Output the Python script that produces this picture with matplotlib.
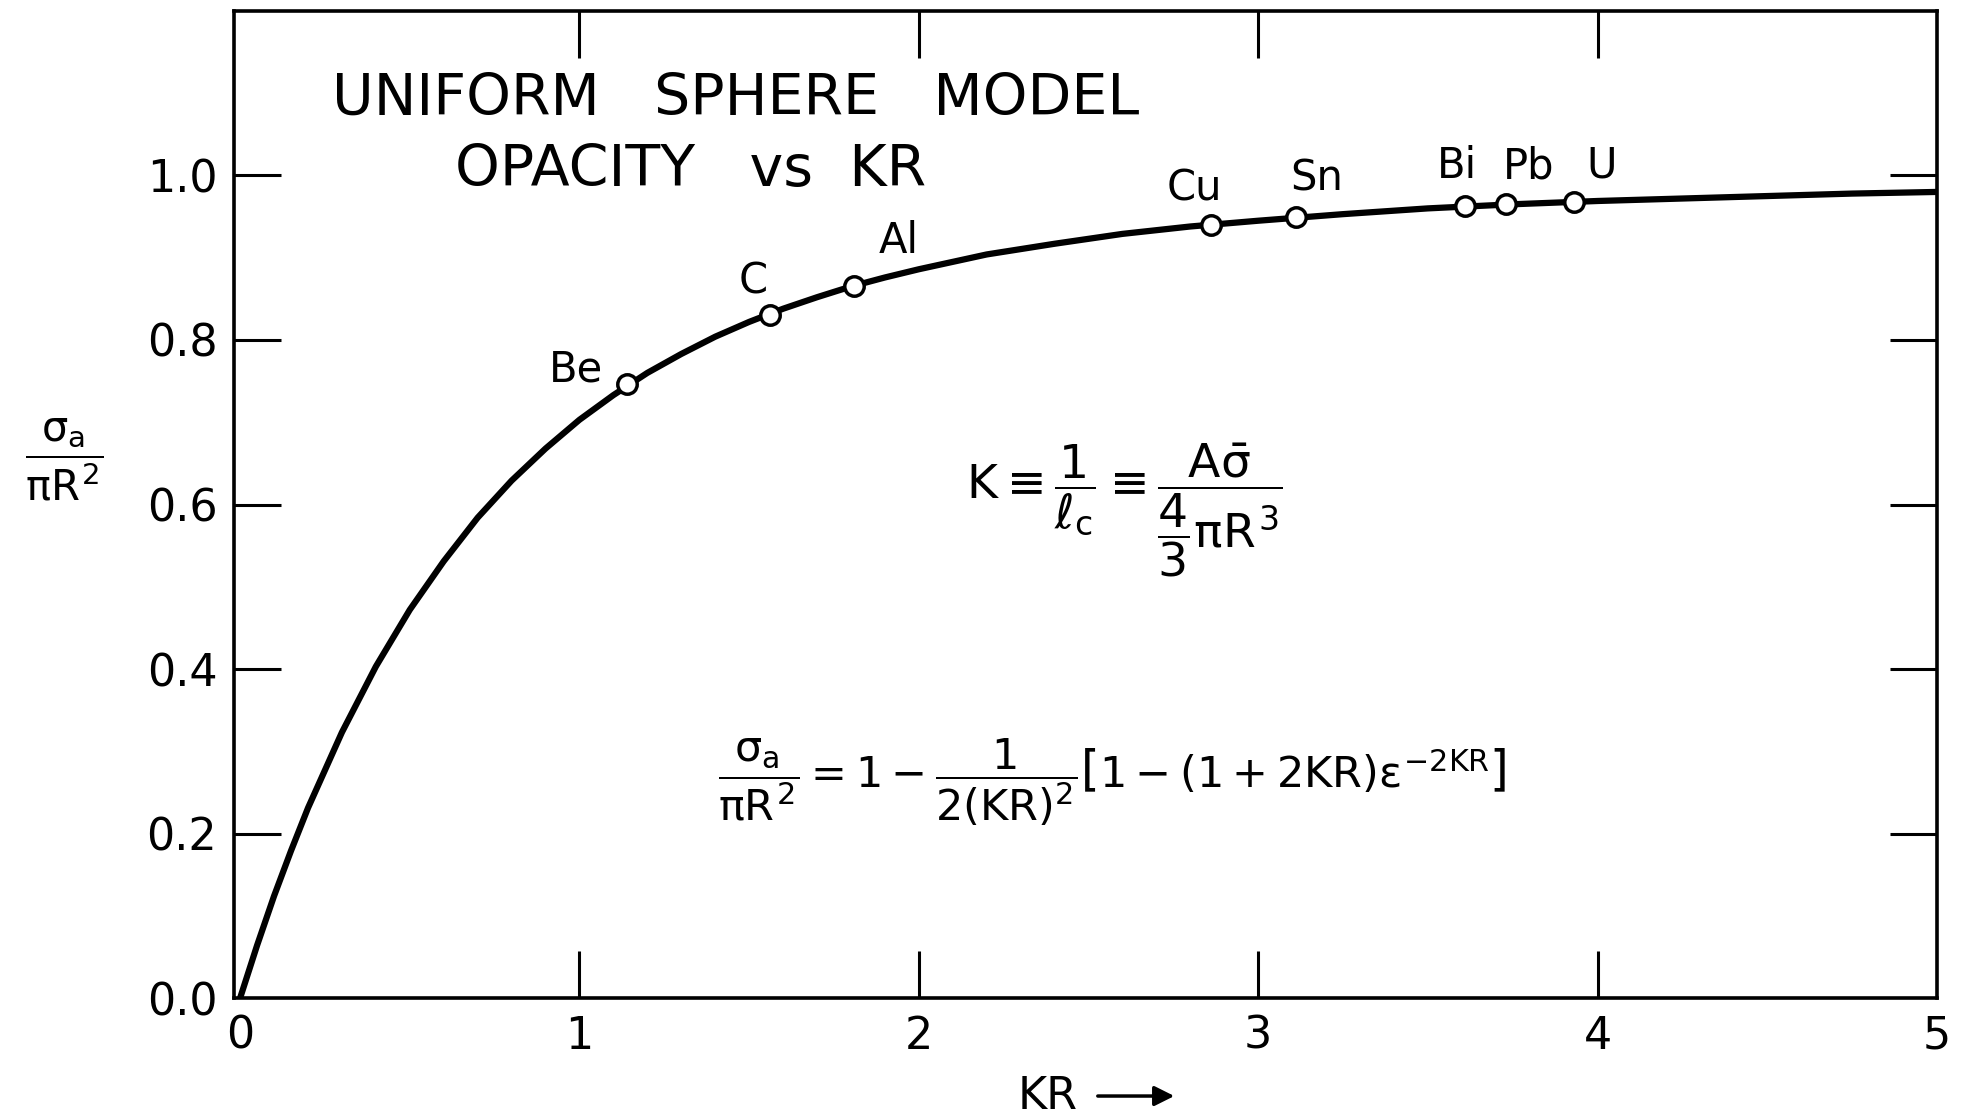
import numpy as np
import matplotlib
matplotlib.use("Agg")
import matplotlib.pyplot as plt
from matplotlib.patches import FancyArrowPatch

plt.rcParams['font.family'] = ['DejaVu Sans']
# upright lettering in the formulas
plt.rcParams['mathtext.fontset'] = 'custom'
plt.rcParams['mathtext.rm'] = 'DejaVu Sans'
plt.rcParams['mathtext.it'] = 'DejaVu Sans'
plt.rcParams['mathtext.bf'] = 'DejaVu Sans:bold'

###########################################################
# opacity curve of the uniform sphere model
kr_curve = [0.0, 0.05, 0.1, 0.15, 0.2, 0.3, 0.4, 0.5, 0.6, 0.7, 0.8, 0.9, 1.0,
            1.1, 1.2, 1.3, 1.4, 1.5, 1.6, 1.7, 1.8, 1.9, 2.0, 2.2, 2.4, 2.6, 2.8,
            3.0, 3.25, 3.5, 3.75, 4.0, 4.25, 4.5, 4.75, 5.0]
opacity_curve = [0.0, 0.064, 0.124, 0.179, 0.231, 0.323, 0.403, 0.472, 0.531, 0.584,
                 0.629, 0.668, 0.703, 0.733, 0.760, 0.783, 0.804, 0.822, 0.838, 0.852,
                 0.865, 0.876, 0.886, 0.904, 0.917, 0.929, 0.938, 0.945, 0.953, 0.960,
                 0.965, 0.969, 0.972, 0.975, 0.978, 0.980]

# measured elements sitting on the curve
elements = ['Be', 'C', 'Al', 'Cu', 'Sn', 'Bi', 'Pb', 'U']
elem_kr = [1.14, 1.56, 1.81, 2.86, 3.11, 3.61, 3.73, 3.93]
elem_opacity = [0.747, 0.830, 0.866, 0.940, 0.949, 0.963, 0.965, 0.968]

x_ticks = [0, 1, 2, 3, 4, 5]
x_ticklabels = ['0', '1', '2', '3', '4', '5']
y_ticks = [0.0, 0.2, 0.4, 0.6, 0.8, 1.0]
y_ticklabels = ['0.0', '0.2', '0.4', '0.6', '0.8', '1.0']

# label offsets (points) from each marker
label_offsets = [(-37, 10), (-12, 24), (32, 32), (-12, 26),
                 (15, 28), (-6, 29), (16, 27), (20, 26)]

###########################################################
fig = plt.figure(figsize=(19.73, 11.2), dpi=100)
ax = fig.add_axes([0.1186, 0.1089, 0.8631, 0.8813])

ax.plot(kr_curve, opacity_curve, color='black', lw=4.5,
        solid_capstyle='round', solid_joinstyle='round', zorder=2)
ax.plot(elem_kr, elem_opacity, 'o', ms=14, mfc='white', mec='black',
        mew=2.5, zorder=3)

for name, x, y, off in zip(elements, elem_kr, elem_opacity, label_offsets):
    ax.annotate(name, (x, y), xytext=off, textcoords='offset points',
                ha='center', va='center', fontsize=30)

ax.set_xlim(-0.018, 5)
ax.set_ylim(0, 1.2)
ax.set_xticks(x_ticks)
ax.set_xticklabels(x_ticklabels)
ax.set_yticks(y_ticks)
ax.set_yticklabels(y_ticklabels)
ax.tick_params(direction='in', length=34, width=2.2, top=True, right=True,
               labelsize=32, pad=12)
# ticks at the corners fall on the frame
for t in [ax.xaxis.get_major_ticks()[0], ax.xaxis.get_major_ticks()[-1],
          ax.yaxis.get_major_ticks()[0]]:
    t.tick1line.set_visible(False)
    t.tick2line.set_visible(False)

for s in ax.spines.values():
    s.set_linewidth(2.6)

# title block
fig.text(0.373, 0.9116, 'UNIFORM   SPHERE   MODEL', fontsize=41,
         ha='center', va='center')
fig.text(0.350, 0.848, 'OPACITY   vs  KR', fontsize=41,
         ha='center', va='center')

# formulas
fig.text(0.570, 0.545,
         r'$K\equiv\dfrac{1}{\ell_c}\equiv\dfrac{A\bar{\sigma}}{\dfrac{4}{3}\pi R^3}$',
         fontsize=34, ha='center', va='center')
fig.text(0.5636, 0.302,
         r'$\dfrac{\sigma_a}{\pi R^2}=1-\dfrac{1}{2(KR)^2}\left[1-(1+2KR)\epsilon^{-2KR}\right]$',
         fontsize=31, ha='center', va='center')

# axis labels
fig.text(0.0324, 0.589, r'$\dfrac{\sigma_a}{\pi R^2}$', fontsize=30,
         ha='center', va='center')
fig.text(0.531, 0.0214, 'KR', fontsize=32, ha='center', va='center')
fig.add_artist(FancyArrowPatch((0.555, 0.0214), (0.5966, 0.0214),
                               transform=fig.transFigure, arrowstyle='-|>',
                               mutation_scale=30, lw=2.5, color='black'))

plt.savefig('out.png', dpi=100)
